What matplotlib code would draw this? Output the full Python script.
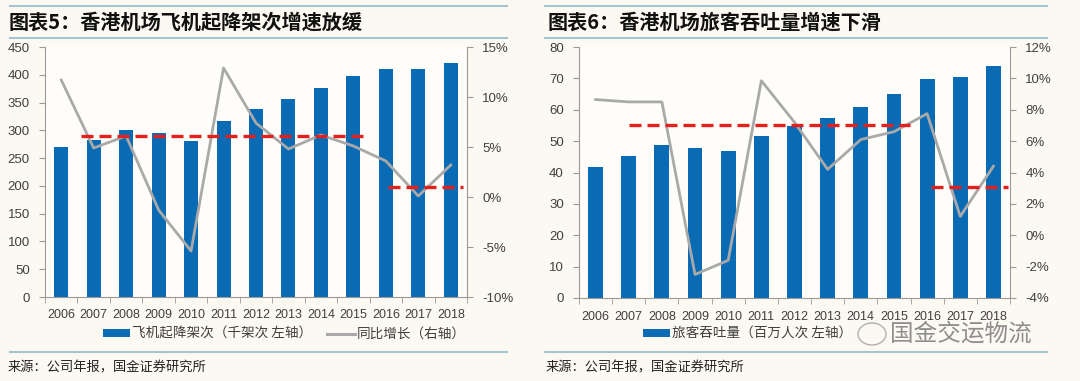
import matplotlib
matplotlib.use("Agg")
import matplotlib.pyplot as plt
from matplotlib.lines import Line2D
from matplotlib.patches import Patch, Ellipse
from matplotlib.ticker import FuncFormatter, FixedLocator

plt.rcParams['font.family'] = ['Liberation Sans', 'Noto Sans CJK SC', 'DejaVu Sans']

years = ['2006', '2007', '2008', '2009', '2010', '2011', '2012',
         '2013', '2014', '2015', '2016', '2017', '2018']

# Chart 5: aircraft movements (thousand) and YoY growth (%)
movements = [270, 283, 301, 296, 280, 317, 339, 356, 377, 397, 410, 410, 422]
movements_yoy = [11.7, 4.9, 6.1, -1.3, -5.4, 12.9, 7.4, 4.8, 6.2, 5.1, 3.6, 0.1, 3.2]
movements_avg = [6.1, 1.0]
movements_avg_span = [(0.62, 9.36), (10.08, 12.39)]

# Chart 6: passenger throughput (million) and YoY growth (%)
passengers = [41.6, 45.2, 48.9, 47.7, 47.0, 51.5, 54.9, 57.3, 60.8, 64.9, 69.9, 70.5, 73.9]
passengers_yoy = [8.65, 8.5, 8.5, -2.5, -1.6, 9.85, 7.2, 4.2, 6.1, 6.6, 7.75, 1.2, 4.4]
passengers_avg = [7.0, 3.05]
passengers_avg_span = [(1.0, 9.47), (10.12, 12.44)]

titles = ['图表5：香港机场飞机起降架次增速放缓', '图表6：香港机场旅客吞吐量增速下滑']
bar_labels = ['飞机起降架次（千架次 左轴）', '旅客吞吐量（百万人次 左轴）']
line_label = '同比增长（右轴）'
source = '来源：公司年报，国金证券研究所'
watermark = '国金交运物流'

BG = '#FBF9F1'
BLUE = '#0A6BB5'
GRAY = '#A9A9A9'
RED = '#E3201B'
TXT = '#404040'
SPINE = '#9A9A9A'
RULE = '#A3C4D0'

W, H = 1080, 381
fig = plt.figure(figsize=(W / 100, H / 100), dpi=100, facecolor=BG)


def px_rect(x0, y_top, x1, y_bot):
    return [x0 / W, 1 - y_bot / H, (x1 - x0) / W, (y_bot - y_top) / H]


def draw(rect, bars, yoy, avg, spans, ylim, ystep, rlim, rstep, bw):
    ax = fig.add_axes(rect)
    ax.set_facecolor('#FEFDF9')
    x = list(range(len(years)))
    ax.bar(x, bars, width=bw, color=BLUE, zorder=2)
    ax.set_xlim(-0.5, len(years) - 0.5)
    ax.set_ylim(*ylim)
    ax.set_yticks([v for v in range(ylim[0], ylim[1] + 1, ystep)])
    ax.set_xticks(x)
    ax.set_xticklabels(years)
    ax.xaxis.set_minor_locator(FixedLocator([i - 0.5 for i in range(len(years) + 1)]))
    ax.tick_params(axis='x', which='major', length=0, pad=9, labelsize=9, labelcolor=TXT)
    ax.tick_params(axis='x', which='minor', length=4, color=SPINE, direction='out')
    ax.tick_params(axis='y', length=4, color=SPINE, pad=7, labelsize=9.5, labelcolor=TXT)
    for s in ['top', 'right']:
        ax.spines[s].set_visible(False)
    for s in ['left', 'bottom']:
        ax.spines[s].set_color(SPINE)

    ax2 = ax.twinx()
    ax2.plot(x, yoy, color=GRAY, lw=2.0, zorder=3)
    for v, (a, b) in zip(avg, spans):
        ax2.plot([a, b], [v, v], color=RED, lw=2.4, dashes=(3.6, 1.8), zorder=4,
                 dash_capstyle='butt')
    ax2.set_ylim(*rlim)
    ax2.set_yticks([v for v in range(rlim[0], rlim[1] + 1, rstep)])
    ax2.yaxis.set_major_formatter(FuncFormatter(lambda v, p: f'{v:.0f}%'))
    ax2.tick_params(axis='y', length=4, color=SPINE, pad=7, labelsize=9.5, labelcolor=TXT)
    for s in ['top', 'left', 'bottom']:
        ax2.spines[s].set_visible(False)
    ax2.spines['right'].set_color(SPINE)
    ax2.set_xlim(-0.5, len(years) - 0.5)
    return ax


def legend(ax, handles, labels, x_px):
    ax.legend(handles, labels, loc='center left',
              bbox_to_anchor=(x_px / W, 1 - 334 / H), bbox_transform=fig.transFigure,
              ncol=len(handles), frameon=False, borderpad=0, borderaxespad=0,
              prop={'family': ['Noto Sans CJK SC'], 'size': 9.8},
              handlelength=2.0, handleheight=0.55, handletextpad=0.15,
              columnspacing=1.1, labelcolor=TXT)


axL = draw(px_rect(45, 47, 467, 297), movements, movements_yoy, movements_avg,
           movements_avg_span, (0, 450), 50, (-10, 15), 5, 0.43)
axR = draw(px_rect(579, 47, 1010, 298), passengers, passengers_yoy, passengers_avg,
           passengers_avg_span, (0, 80), 10, (-4, 12), 2, 0.45)

blue_h = Patch(facecolor=BLUE, edgecolor='none')
gray_h = Line2D([0], [0], color=GRAY, lw=2.2)
legend(axL, [blue_h, gray_h], [bar_labels[0], line_label], 103)
legend(axR, [blue_h], [bar_labels[1]], 643)

# Header / footer rules and texts
for x0, x1 in [(10, 507), (545, 1047)]:
    for y in [6, 38]:
        fig.add_artist(Line2D([x0 / W, x1 / W], [1 - y / H, 1 - y / H],
                              transform=fig.transFigure, color=RULE, lw=1.5))
    fig.add_artist(Line2D([x0 / W, x1 / W], [1 - 352 / H, 1 - 352 / H],
                          transform=fig.transFigure, color=RULE, lw=1.5))

for xt, t in zip([9, 548], titles):
    fig.text(xt / W, 1 - 22 / H, t, fontsize=14.5, fontweight='bold',
             family=['Noto Sans CJK SC'], color='#111111', va='center', ha='left')
for xt in [8, 546]:
    fig.text(xt / W, 1 - 368 / H, source, fontsize=9.5, family=['Noto Sans CJK SC'],
             color='#222222', va='center', ha='left')

# Watermark (chat-bubble icon + text)
fig.add_artist(Ellipse((872 / W, 1 - 334 / H), 28 / W, 22 / H, transform=fig.transFigure,
                       facecolor='none', edgecolor='#B0B0B0', lw=1.0))
fig.text(890 / W, 1 - 334 / H, watermark, fontsize=17, fontweight='light',
         family=['Noto Sans CJK SC'], color='#8E8E8E', va='center', ha='left')

fig.savefig('out.png', dpi=100, facecolor=BG)
